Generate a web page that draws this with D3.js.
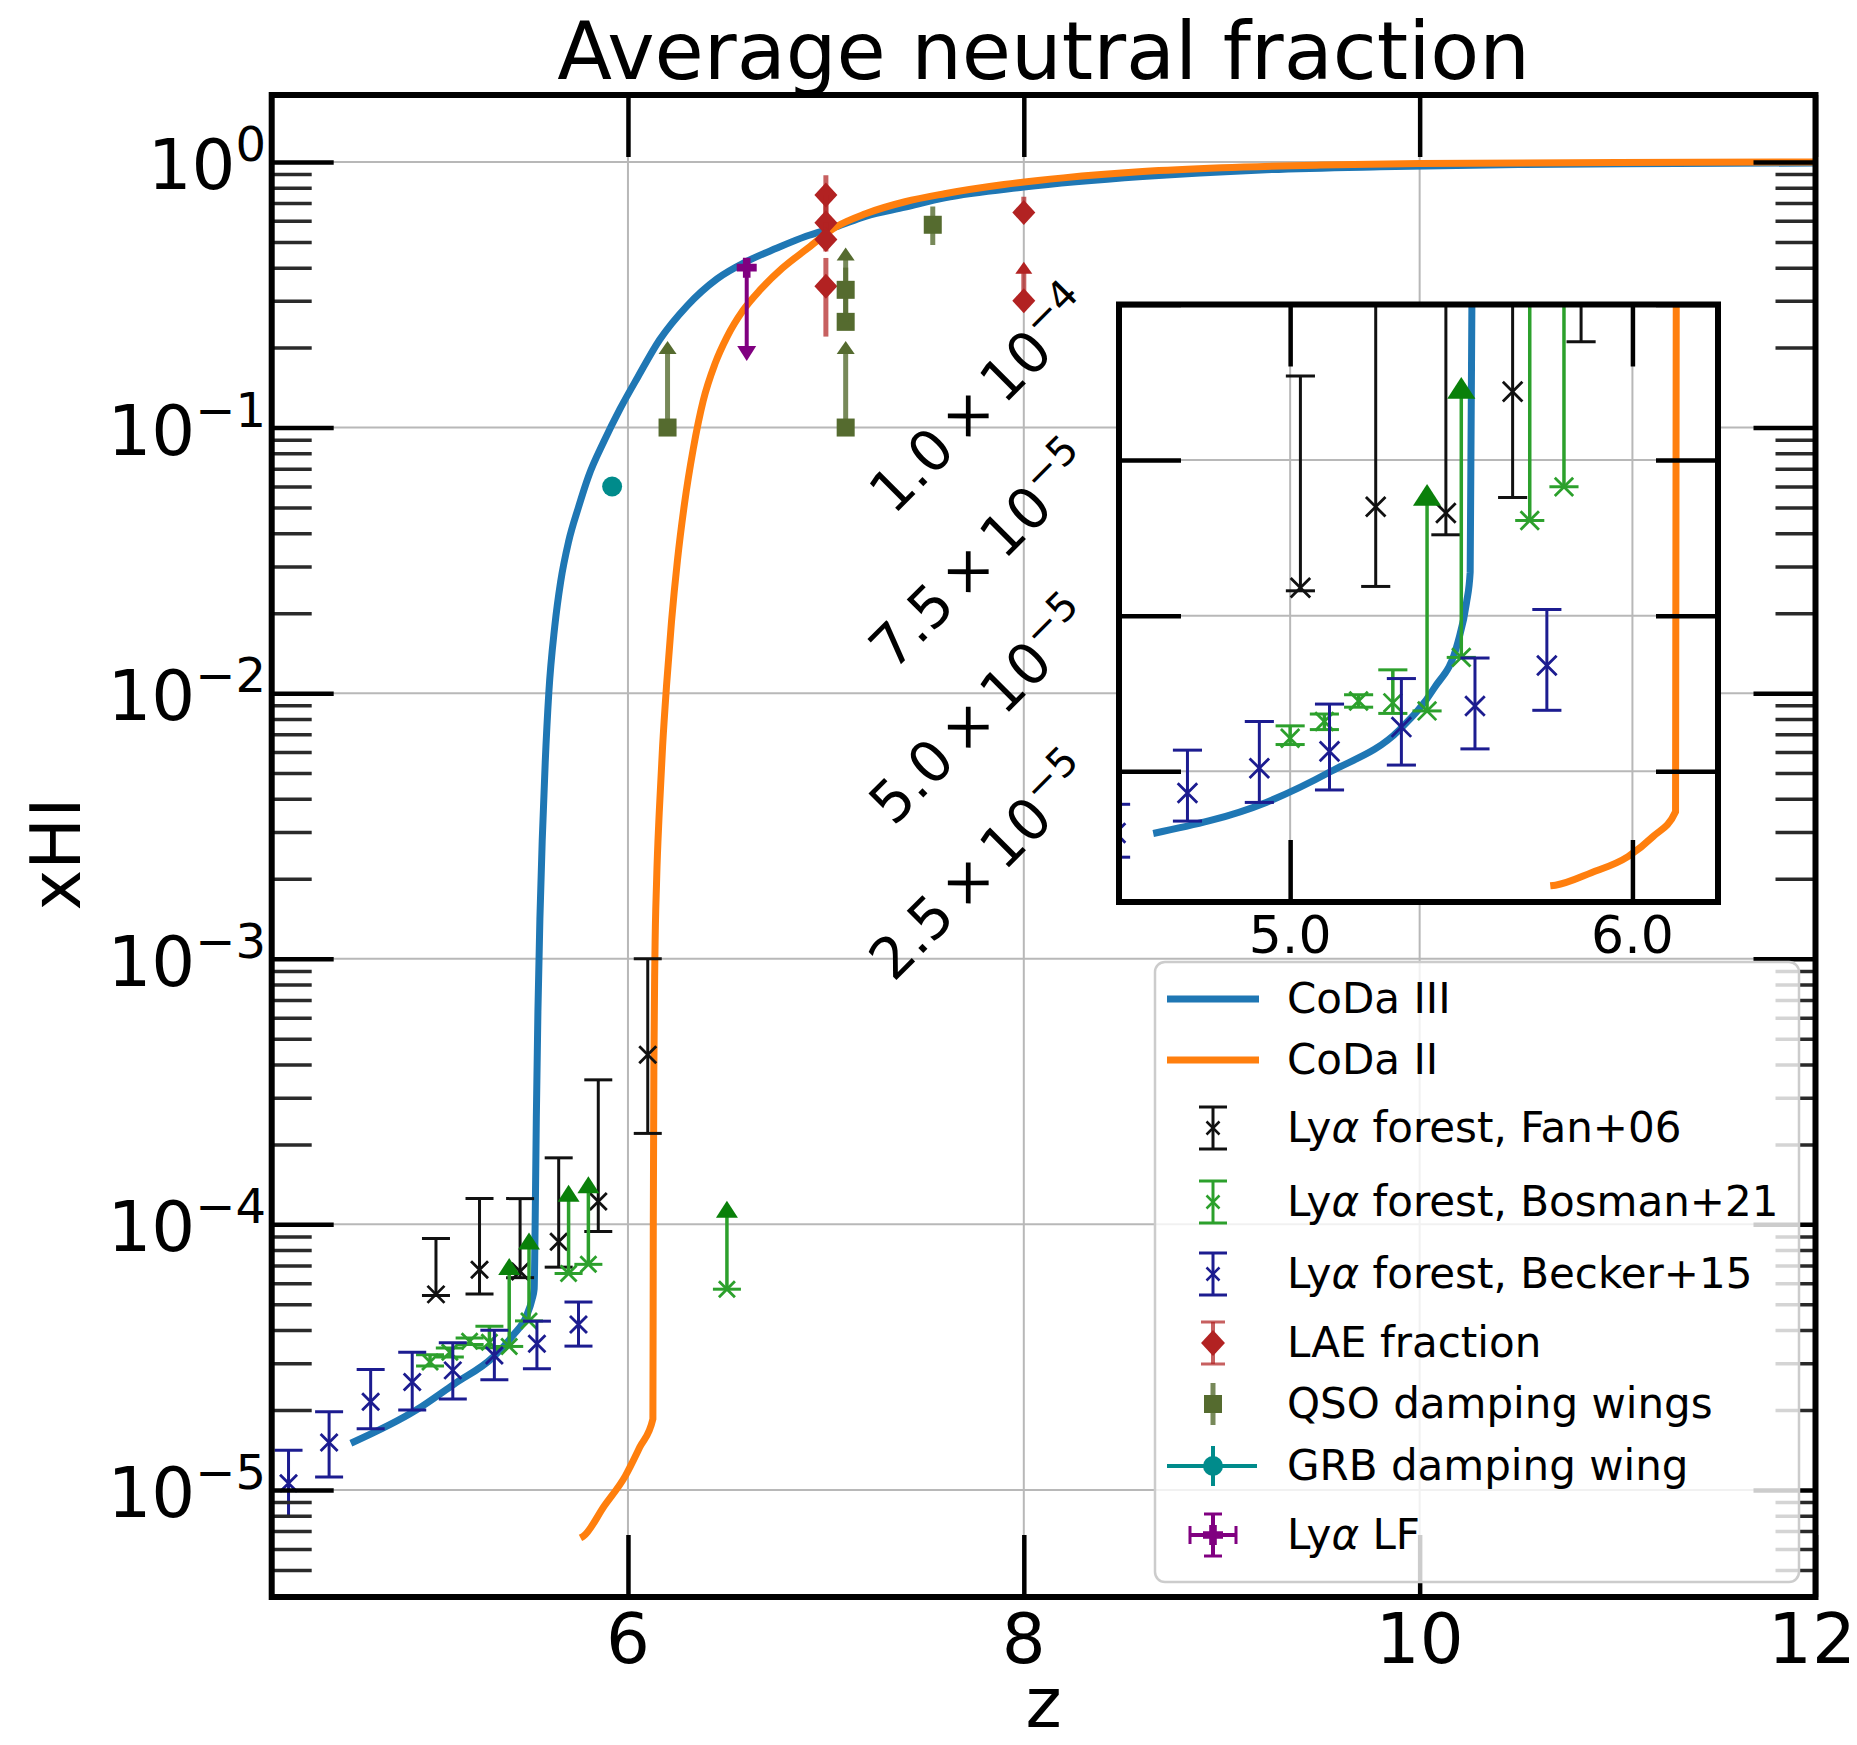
<!DOCTYPE html>
<html><head><meta charset="utf-8">
<script src="https://cdn.jsdelivr.net/npm/d3@7"></script>
<style>body{margin:0;background:#fff} svg text{font-family:"DejaVu Sans",sans-serif;fill:#000}</style>
</head><body><svg id="c" width="1857" height="1745"></svg>
<script>
// ---------------- DATA ----------------
const zTicks = [6, 8, 10, 12];
const yTickExps = [-5, -4, -3, -2, -1, 0];
const insetZTicks = [5.0, 6.0];
const insetZTickLabels = ["5.0", "6.0"];
const insetYTicks = [2.5e-5, 5.0e-5, 7.5e-5, 1.0e-4];
const insetYTickMant = ["2.5", "5.0", "7.5", "1.0"];
const insetYTickExp = ["−5", "−5", "−5", "−4"];

// CoDa III  [z, xHI]
const codaIII = [[4.60,1.5e-5],[4.93,2.0e-5],[5.12,2.5e-5],[5.32,3.17e-5],[5.42,3.83e-5],[5.49,4.57e-5],[5.515,5.2e-5],[5.526,5.7e-5],
  [5.531,1.0e-4],[5.537,2.51e-4],[5.545,6.31e-4],[5.555,1.41e-3],[5.567,2.82e-3],[5.582,5.5e-3],[5.6,0.01],[5.63,0.0178],
  [5.66,0.0263],[5.70,0.0372],[5.75,0.0501],[5.80,0.0653],[5.88,0.0891],[5.96,0.1175],[6.05,0.155],[6.16,0.214],[6.30,0.288],
  [6.45,0.363],[6.6,0.422],[6.75,0.473],[6.9,0.525],[7.05,0.569],[7.2,0.624],[7.4,0.676],[7.6,0.733],[8.0,0.804],[8.6,0.881],
  [9.2,0.933],[9.8,0.959],[10.5,0.977],[11.3,0.986],[12.0,0.991]];
// CoDa II
const codaII = [[5.76,6.6e-6],[5.775,6.7e-6],[5.88,8.7e-6],[5.987,1.13e-5],[6.06,1.45e-5],[6.126,1.85e-5],
  [6.128,1.0e-4],[6.131,3.98e-4],[6.136,1.0e-3],[6.145,2.0e-3],[6.158,3.55e-3],[6.175,6.31e-3],[6.195,0.0107],[6.22,0.0186],
  [6.25,0.0316],[6.285,0.0513],[6.33,0.0832],[6.38,0.126],[6.44,0.174],[6.5,0.219],[6.58,0.275],[6.67,0.331],[6.78,0.398],
  [6.9,0.468],[7.05,0.569],[7.2,0.638],[7.4,0.708],[7.6,0.759],[7.9,0.822],[8.2,0.871],[8.6,0.920],[9.0,0.951],[9.5,0.973],
  [10.0,0.986],[11.0,0.995],[12.0,1.0]];

// Lya forest, Fan+06
const fan06 = [
  {z:5.03, v:5.45e-5, lo:5.4e-5, hi:8.85e-5},
  {z:5.25, v:6.75e-5, lo:5.47e-5, hi:1.25e-4},
  {z:5.455, v:6.65e-5, lo:6.3e-5, hi:1.25e-4},
  {z:5.65, v:8.6e-5, lo:6.9e-5, hi:1.78e-4},
  {z:5.85, v:1.22e-4, lo:9.4e-5, hi:3.5e-4},
  {z:6.10, v:4.35e-4, lo:2.2e-4, hi:1.0e-3}];
// Lya forest, Bosman+21 (lolim: lower limits)
const bosman21 = [
  {z:5.0, v:3.03e-5, lo:2.93e-5, hi:3.23e-5},
  {z:5.1, v:3.3e-5, lo:3.17e-5, hi:3.42e-5},
  {z:5.2, v:3.63e-5, lo:3.53e-5, hi:3.73e-5},
  {z:5.3, v:3.6e-5, lo:3.43e-5, hi:4.13e-5},
  {z:5.4, v:3.47e-5, hi:6.94e-5, lolim:true},
  {z:5.5, v:4.33e-5, hi:8.66e-5, lolim:true},
  {z:5.7, v:6.53e-5, hi:1.31e-4, lolim:true},
  {z:5.8, v:7.07e-5, hi:1.41e-4, lolim:true},
  {z:6.5, v:5.7e-5, hi:1.14e-4, lolim:true}];
// Lya forest, Becker+15
const becker15 = [
  {z:4.285, v:1.06e-5, lo:7.95e-6, hi:1.41e-5},
  {z:4.49, v:1.51e-5, lo:1.12e-5, hi:1.97e-5},
  {z:4.70, v:2.15e-5, lo:1.7e-5, hi:2.84e-5},
  {z:4.91, v:2.55e-5, lo:2.0e-5, hi:3.3e-5},
  {z:5.115, v:2.82e-5, lo:2.2e-5, hi:3.58e-5},
  {z:5.325, v:3.21e-5, lo:2.6e-5, hi:3.99e-5},
  {z:5.54, v:3.55e-5, lo:2.86e-5, hi:4.32e-5},
  {z:5.75, v:4.2e-5, lo:3.48e-5, hi:5.1e-5}];
// LAE fraction
const laeFraction = [
  {z:7.0, v:0.75, lo:0.59, hi:0.89},
  {z:7.0, v:0.59, lo:0.51, hi:0.75},
  {z:7.0, v:0.51, lo:0.46, hi:0.59},
  {z:7.0, v:0.34, lo:0.22, hi:0.435},
  {z:8.0, v:0.645, lo:0.645, hi:0.74},
  {z:8.0, v:0.30, hi:0.40, lolim:true}];
// QSO damping wings
const qsoDamping = [
  {z:6.2, v:0.1, hi:0.2, lolim:true},
  {z:7.1, v:0.1, hi:0.2, lolim:true},
  {z:7.1, v:0.25, hi:0.45, lolim:true},
  {z:7.1, v:0.33, lo:0.25, hi:0.40},
  {z:7.54, v:0.58, lo:0.487, hi:0.68}];
// GRB damping wing
const grbDamping = [{z:5.92, v:0.06}];
// Lya LF (upper limit)
const lyaLF = [{z:6.6, v:0.4, lo:0.19, uplim:true}];

// ---------------- LAYOUT ----------------
const W = 1857, H = 1745;
const M = {left:271.7, right:1815.5, top:95, bottom:1597};
const I = {left:1119, right:1718, top:304.5, bottom:902};
const C = {blue:"#1f77b4", orange:"#ff7f0e", grid:"#b8b8b8"};

const x = d3.scaleLinear().domain([4.2, 12]).range([M.left, M.right]);
const y = d3.scaleLog().domain([Math.pow(10,-5.403), Math.pow(10,0.252)]).range([M.bottom, M.top]);
const xi = d3.scaleLinear().domain([4.5, 6.25]).range([I.left, I.right]);
const yi = d3.scaleLinear().domain([4e-6, 1e-4]).range([I.bottom, I.top]);

const styles = {
  fan:    {color:"#111", marker:"x", ms:17, mw:2.8, elw:3, cap:28},
  bosman: {color:"#2ca02c", acolor:"#0a800a", marker:"x", ms:16, mw:2.8, elw:3.5, cap:28, cw:22, ch:17},
  becker: {color:"#1c1c90", marker:"x", ms:17, mw:2.8, elw:3, cap:28},
  lae:    {color:"#b22222", ecolor:"rgba(178,34,34,0.72)", marker:"D", ms:25, elw:5, cap:0, cw:17, ch:12},
  qso:    {color:"#556b2f", ecolor:"rgba(85,107,47,0.8)", marker:"s", ms:18, elw:5, cap:0, cw:18, ch:13},
  grb:    {color:"#008b8b", marker:"o", ms:20, elw:4, cap:0},
  lf:     {color:"#800080", marker:"P", ms:20, elw:4, cap:0, cw:19, ch:15}
};
const insetScale = {ms:1.15, cap:1.04, caret:1.28};

const svg = d3.select("#c");
svg.append("rect").attr("width", W).attr("height", H).attr("fill", "#fff");
const defs = svg.append("defs");
defs.append("clipPath").attr("id","clipMain").append("rect")
  .attr("x",M.left).attr("y",M.top).attr("width",M.right-M.left).attr("height",M.bottom-M.top);
defs.append("clipPath").attr("id","clipInset").append("rect")
  .attr("x",I.left).attr("y",I.top).attr("width",I.right-I.left).attr("height",I.bottom-I.top);

// ---------- helpers ----------
function drawMarker(g, type, cx, cy, s, color, sw) {
  const h = s/2;
  if (type === "x") {
    g.append("path").attr("d",`M${cx-h},${cy-h}L${cx+h},${cy+h}M${cx-h},${cy+h}L${cx+h},${cy-h}`)
      .attr("stroke",color).attr("stroke-width",sw).attr("fill","none");
  } else if (type === "D") {
    g.append("path").attr("d",`M${cx},${cy-h}L${cx+h*0.92},${cy}L${cx},${cy+h}L${cx-h*0.92},${cy}Z`).attr("fill",color);
  } else if (type === "s") {
    g.append("rect").attr("x",cx-h).attr("y",cy-h).attr("width",s).attr("height",s).attr("fill",color);
  } else if (type === "o") {
    g.append("circle").attr("cx",cx).attr("cy",cy).attr("r",h).attr("fill",color);
  } else if (type === "P") {
    const a = s*0.19;
    g.append("path").attr("d",`M${cx-a},${cy-h}H${cx+a}V${cy-a}H${cx+h}V${cy+a}H${cx+a}V${cy+h}H${cx-a}V${cy+a}H${cx-h}V${cy-a}H${cx-a}Z`).attr("fill",color);
  }
}
function caret(g, cx, cy, w, hgt, up, color) {
  const t = up ? -1 : 1;
  g.append("path").attr("d",`M${cx},${cy+t*hgt/2}L${cx-w/2},${cy-t*hgt/2}L${cx+w/2},${cy-t*hgt/2}Z`).attr("fill",color);
}
function vline(g, cx, y1, y2, color, w) {
  g.append("line").attr("x1",cx).attr("x2",cx).attr("y1",y1).attr("y2",y2).attr("stroke",color).attr("stroke-width",w);
}
function hline(g, x1, x2, cy, color, w) {
  g.append("line").attr("x1",x1).attr("x2",x2).attr("y1",cy).attr("y2",cy).attr("stroke",color).attr("stroke-width",w);
}
function drawSeries(g, data, st, xs, ys, k) {
  k = k || {ms:1, cap:1, caret:1};
  const ec = st.ecolor || st.color;
  const cap = st.cap*k.cap;
  data.forEach(d => {
    const cx = xs(d.z), cy = ys(d.v);
    if (d.lolim) {
      const yh = ys(d.hi);
      vline(g, cx, cy, yh, ec, st.elw);
      caret(g, cx, yh, st.cw*k.caret, st.ch*k.caret, true, st.acolor || st.color);
      if (cap > 0) hline(g, cx-cap/2, cx+cap/2, cy, ec, 3);
    } else if (d.uplim) {
      const yl = ys(d.lo);
      vline(g, cx, cy, yl, ec, st.elw);
      caret(g, cx, yl, st.cw*k.caret, st.ch*k.caret, false, st.color);
    } else if (d.lo !== undefined) {
      const yl = ys(d.lo), yh = ys(d.hi);
      vline(g, cx, yl, yh, ec, st.elw);
      if (cap > 0) { hline(g, cx-cap/2, cx+cap/2, yl, ec, 3); hline(g, cx-cap/2, cx+cap/2, yh, ec, 3); }
    }
    drawMarker(g, st.marker, cx, cy, st.ms*k.ms, st.color, st.mw);
  });
}

// ================= MAIN AXES =================
const gGrid = svg.append("g");
[6, 8, 10].forEach(z => vline(gGrid, x(z), M.top, M.bottom, C.grid, 2));
yTickExps.forEach(e => hline(gGrid, M.left, M.right, y(Math.pow(10,e)), C.grid, 2));

const gData = svg.append("g").attr("clip-path","url(#clipMain)");
const lineMain = d3.line().x(d => x(d[0])).y(d => y(d[1])).curve(d3.curveMonotoneX);
gData.append("path").datum(codaIII).attr("d", lineMain).attr("fill","none").attr("stroke",C.blue).attr("stroke-width",7);
gData.append("path").datum(codaII).attr("d", lineMain).attr("fill","none").attr("stroke",C.orange).attr("stroke-width",7);
drawSeries(gData, fan06, styles.fan, x, y);
drawSeries(gData, bosman21, styles.bosman, x, y);
drawSeries(gData, becker15, styles.becker, x, y);
drawSeries(gData, laeFraction, styles.lae, x, y);
drawSeries(gData, qsoDamping, styles.qso, x, y);
drawSeries(gData, grbDamping, styles.grb, x, y);
drawSeries(gData, lyaLF, styles.lf, x, y);

// ticks via d3 axes (inward)
const majorY = yTickExps.map(e => Math.pow(10, e));
const minorY = [];
for (let e = -6; e <= 0; e++) for (let m = 2; m <= 9; m++) {
  const v = m*Math.pow(10, e);
  if (v >= y.domain()[0] && v <= y.domain()[1]) minorY.push(v);
}
function styleAxis(sel, w, col) {
  sel.select(".domain").remove();
  sel.selectAll(".tick line").attr("stroke", col).attr("stroke-width", w);
  sel.selectAll(".tick text").remove();
}
svg.append("g").attr("transform",`translate(${M.left},0)`).call(d3.axisLeft(y).tickValues(minorY).tickSize(-40).tickFormat("")).call(s=>styleAxis(s,3.5,"#2a2a2a"));
svg.append("g").attr("transform",`translate(${M.left},0)`).call(d3.axisLeft(y).tickValues(majorY).tickSize(-62).tickFormat("")).call(s=>styleAxis(s,4.5,"#000"));
svg.append("g").attr("transform",`translate(${M.right},0)`).call(d3.axisRight(y).tickValues(minorY).tickSize(-40).tickFormat("")).call(s=>styleAxis(s,3.5,"#2a2a2a"));
svg.append("g").attr("transform",`translate(${M.right},0)`).call(d3.axisRight(y).tickValues(majorY).tickSize(-62).tickFormat("")).call(s=>styleAxis(s,4.5,"#000"));
svg.append("g").attr("transform",`translate(0,${M.bottom})`).call(d3.axisBottom(x).tickValues(zTicks).tickSize(-62).tickFormat("")).call(s=>styleAxis(s,4.5,"#000"));
svg.append("g").attr("transform",`translate(0,${M.top})`).call(d3.axisTop(x).tickValues(zTicks).tickSize(-62).tickFormat("")).call(s=>styleAxis(s,4.5,"#000"));

svg.append("rect").attr("x",M.left).attr("y",M.top).attr("width",M.right-M.left).attr("height",M.bottom-M.top)
  .attr("fill","none").attr("stroke","#000").attr("stroke-width",6);

// tick labels
zTicks.forEach(z => svg.append("text").attr("x", Math.min(x(z), 1812)).attr("y", 1663).attr("text-anchor","middle").attr("font-size",69).text(z));
yTickExps.forEach(e => {
  const t = svg.append("text").attr("x", 266).attr("y", y(Math.pow(10,e)) + 27).attr("text-anchor","end").attr("font-size",69);
  t.append("tspan").text("10");
  t.append("tspan").attr("dy",-28).attr("font-size",48).text(e === 0 ? "0" : "−" + (-e));
});
svg.append("text").attr("x",(M.left+M.right)/2).attr("y",1727).attr("text-anchor","middle").attr("font-size",69).text("z");
svg.append("text").attr("transform","translate(80,854) rotate(-90)").attr("text-anchor","middle").attr("font-size",69).text("xHI");
svg.append("text").attr("x",(M.left+M.right)/2).attr("y",79).attr("text-anchor","middle").attr("font-size",80).text("Average neutral fraction");

// ================= INSET =================
svg.append("rect").attr("x",I.left).attr("y",I.top).attr("width",I.right-I.left).attr("height",I.bottom-I.top).attr("fill","#fff");
const gIG = svg.append("g");
insetZTicks.forEach(z => vline(gIG, xi(z), I.top, I.bottom, C.grid, 2));
insetYTicks.forEach(v => hline(gIG, I.left, I.right, yi(v), C.grid, 2));
const gI = svg.append("g").attr("clip-path","url(#clipInset)");
const lineInset = d3.line().x(d => xi(d[0])).y(d => yi(d[1])).curve(d3.curveMonotoneX);
gI.append("path").datum(codaIII).attr("d", lineInset).attr("fill","none").attr("stroke",C.blue).attr("stroke-width",7);
gI.append("path").datum(codaII).attr("d", lineInset).attr("fill","none").attr("stroke",C.orange).attr("stroke-width",7);
drawSeries(gI, fan06, styles.fan, xi, yi, insetScale);
drawSeries(gI, bosman21, styles.bosman, xi, yi, insetScale);
drawSeries(gI, becker15, styles.becker, xi, yi, insetScale);

svg.append("g").attr("transform",`translate(${I.left},0)`).call(d3.axisLeft(yi).tickValues(insetYTicks).tickSize(-62).tickFormat("")).call(s=>styleAxis(s,4.5,"#000"));
svg.append("g").attr("transform",`translate(${I.right},0)`).call(d3.axisRight(yi).tickValues(insetYTicks).tickSize(-62).tickFormat("")).call(s=>styleAxis(s,4.5,"#000"));
svg.append("g").attr("transform",`translate(0,${I.bottom})`).call(d3.axisBottom(xi).tickValues(insetZTicks).tickSize(-62).tickFormat("")).call(s=>styleAxis(s,4.5,"#000"));
svg.append("g").attr("transform",`translate(0,${I.top})`).call(d3.axisTop(xi).tickValues(insetZTicks).tickSize(-62).tickFormat("")).call(s=>styleAxis(s,4.5,"#000"));
svg.append("rect").attr("x",I.left).attr("y",I.top).attr("width",I.right-I.left).attr("height",I.bottom-I.top)
  .attr("fill","none").attr("stroke","#000").attr("stroke-width",6);

insetZTicks.forEach((z,i) => svg.append("text").attr("x", xi(z)).attr("y", 953).attr("text-anchor","middle").attr("font-size",52).text(insetZTickLabels[i]));
insetYTicks.forEach((v,i) => {
  const t = svg.append("text").attr("transform",`translate(1097,${yi(v)+8}) rotate(-45)`).attr("text-anchor","end").attr("font-size",57);
  t.append("tspan").text(insetYTickMant[i]);
  t.append("tspan").attr("dx",9).text("×");
  t.append("tspan").attr("dx",9).text("10");
  t.append("tspan").attr("dy",-23).attr("font-size",40).text(insetYTickExp[i]);
});

// ================= LEGEND =================
const L = {x:1155, y:962, w:644, h:620, hx:1213, tx:1287};
const legendRowY = [999, 1060, 1128, 1202, 1274, 1343, 1404, 1466, 1535];
const legendItems = [
  {parts:[["CoDa III",""]], kind:"line", color:C.blue},
  {parts:[["CoDa II",""]], kind:"line", color:C.orange},
  {parts:[["Ly",""],["α","i"],[" forest, Fan+06",""]], kind:"eb", st:"fan"},
  {parts:[["Ly",""],["α","i"],[" forest, Bosman+21",""]], kind:"eb", st:"bosman"},
  {parts:[["Ly",""],["α","i"],[" forest, Becker+15",""]], kind:"eb", st:"becker"},
  {parts:[["LAE fraction",""]], kind:"lae", st:"lae"},
  {parts:[["QSO damping wings",""]], kind:"qso", st:"qso"},
  {parts:[["GRB damping wing",""]], kind:"grb", st:"grb"},
  {parts:[["Ly",""],["α","i"],[" LF",""]], kind:"lf", st:"lf"}
];
const gL = svg.append("g");
gL.append("rect").attr("x",L.x).attr("y",L.y).attr("width",L.w).attr("height",L.h).attr("rx",10)
  .attr("fill","#fff").attr("fill-opacity",0.8).attr("stroke","#cccccc").attr("stroke-width",2.5);
legendItems.forEach((it, i) => {
  const cy = legendRowY[i], cx = L.hx;
  if (it.kind === "line") {
    hline(gL, 1167, 1259, cy, it.color, 7);
  } else {
    const st = styles[it.st];
    const ec = st.ecolor || st.color;
    if (it.kind === "eb") {
      vline(gL, cx, cy-21, cy+21, ec, 3);
      hline(gL, cx-14, cx+14, cy-21, ec, 3); hline(gL, cx-14, cx+14, cy+21, ec, 3);
      drawMarker(gL, "x", cx, cy, 13, st.color, 2.5);
    } else if (it.kind === "lae") {
      vline(gL, cx, cy-21, cy+21, ec, 4);
      hline(gL, cx-12, cx+12, cy-21, ec, 3); hline(gL, cx-12, cx+12, cy+21, ec, 3);
      drawMarker(gL, "D", cx, cy, 26, st.color);
    } else if (it.kind === "qso") {
      vline(gL, cx, cy-21, cy+21, ec, 5);
      drawMarker(gL, "s", cx, cy, 18, st.color);
    } else if (it.kind === "grb") {
      hline(gL, 1167, 1257, cy, st.color, 4);
      vline(gL, cx, cy-20, cy+20, st.color, 4);
      drawMarker(gL, "o", cx, cy, 20, st.color);
    } else if (it.kind === "lf") {
      hline(gL, cx-23, cx+23, cy, st.color, 4);
      vline(gL, cx, cy-21, cy+21, st.color, 4);
      hline(gL, cx-9, cx+9, cy-21, st.color, 3); hline(gL, cx-9, cx+9, cy+21, st.color, 3);
      vline(gL, cx-23, cy-9, cy+9, st.color, 3); vline(gL, cx+23, cy-9, cy+9, st.color, 3);
      drawMarker(gL, "P", cx, cy, 20, st.color);
    }
  }
  const t = gL.append("text").attr("x", L.tx).attr("y", cy + 14).attr("font-size", 42).attr("fill","#111");
  it.parts.forEach(p => { const s = t.append("tspan").text(p[0]); if (p[1] === "i") s.attr("font-style","italic"); });
});
</script></body></html>
